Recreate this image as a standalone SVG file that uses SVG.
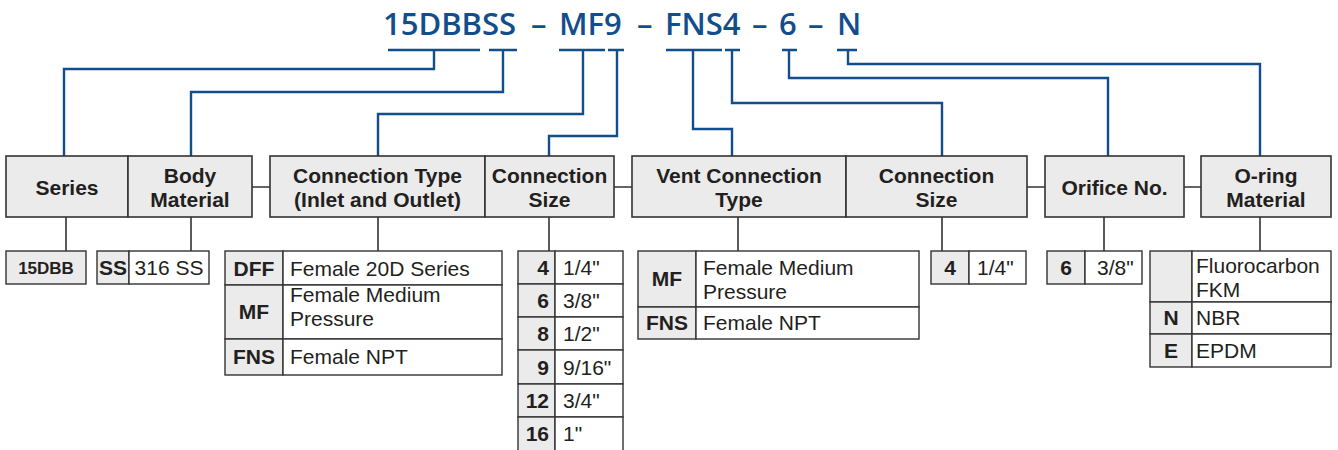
<svg xmlns="http://www.w3.org/2000/svg" width="1338" height="450" viewBox="0 0 1338 450">
<style>
text{font-family:"Liberation Sans",Arial,sans-serif;fill:#231f20;font-size:21px}
.b{font-weight:bold}
.c{text-anchor:middle}
.r{text-anchor:end}
.title{font-family:"Open Sans","Liberation Sans",sans-serif;fill:#124e8c;font-size:31px;font-weight:600}
.hdr{fill:#ebebeb;stroke:#333;stroke-width:1.6}
.key{fill:#ebebeb;stroke:#333;stroke-width:1.4}
.val{fill:#fff;stroke:#333;stroke-width:1.4}
.blue{fill:none;stroke:#124e8c;stroke-width:2.4}
.gray{fill:none;stroke:#333;stroke-width:1.6}
</style>
<rect width="1338" height="450" fill="#fff"/>
<g id="title">
<text class="title" x="383" y="35">15DBBSS</text>
<text class="title" x="531" y="35">–</text>
<text class="title" x="559" y="35">MF9</text>
<text class="title" x="637" y="35">–</text>
<text class="title" x="665" y="35">FNS4</text>
<text class="title" x="752" y="35">–</text>
<text class="title" x="779" y="35">6</text>
<text class="title" x="808" y="35">–</text>
<text class="title" x="837" y="35">N</text>
</g>
<g id="connectors">
<path class="blue" d="M388 50H480M434 50V69H64V156"/>
<path class="blue" d="M489 50H517M503 50V92H191V156"/>
<path class="blue" d="M559 50H605M583 50V114H378V156"/>
<path class="blue" d="M608 50H624M617 50V136H549V156"/>
<path class="blue" d="M666 50H722M693 50V129H732V156"/>
<path class="blue" d="M725 50H740M732 50V103H942V156"/>
<path class="blue" d="M782 50H797M789 50V78H1108V156"/>
<path class="blue" d="M837 50H857M848 50V64H1260V156"/>
<path class="gray" d="M252 187H270M614 187H632M1027 187H1045M1184 187H1201"/>
<path class="gray" d="M66 217V251M191 217V251M378 217V251M549 217V251M738 217V251M942 217V251M1104 217V251M1260 217V251"/>
</g>
<g id="hdr-series"><rect class="hdr" x="6" y="156" width="122" height="61"/><text class="b c" x="67" y="195">Series</text></g>
<g id="hdr-body"><rect class="hdr" x="128" y="156" width="124" height="61"/><text class="b c" x="190" y="183">Body<tspan x="190" dy="24">Material</tspan></text></g>
<g id="hdr-conntype"><rect class="hdr" x="270" y="156" width="215" height="61"/><text class="b c" x="377.5" y="183">Connection Type<tspan x="377.5" dy="24">(Inlet and Outlet)</tspan></text></g>
<g id="hdr-connsize"><rect class="hdr" x="485" y="156" width="129" height="61"/><text class="b c" x="549.5" y="183">Connection<tspan x="549.5" dy="24">Size</tspan></text></g>
<g id="hdr-vent"><rect class="hdr" x="632" y="156" width="214" height="61"/><text class="b c" x="739" y="183">Vent Connection<tspan x="739" dy="24">Type</tspan></text></g>
<g id="hdr-ventsize"><rect class="hdr" x="846" y="156" width="181" height="61"/><text class="b c" x="936.5" y="183">Connection<tspan x="936.5" dy="24">Size</tspan></text></g>
<g id="hdr-orifice"><rect class="hdr" x="1045" y="156" width="139" height="61"/><text class="b c" x="1114.5" y="195">Orifice No.</text></g>
<g id="hdr-oring"><rect class="hdr" x="1201" y="156" width="130" height="61"/><text class="b c" x="1266" y="183">O-ring<tspan x="1266" dy="24">Material</tspan></text></g>

<g id="tbl-series"><rect class="key" x="6" y="251" width="80" height="33"/><text class="b c" x="46" y="274" style="font-size:17px">15DBB</text></g>
<g id="tbl-body"><rect class="key" x="97" y="251" width="32" height="33"/><rect class="val" x="129" y="251" width="80" height="33"/><text class="b c" x="113" y="275">SS</text><text class="c" x="169" y="275">316 SS</text></g>
<g id="tbl-conntype">
<rect class="key" x="225" y="251" width="58" height="34"/><rect class="val" x="283" y="251" width="219" height="34"/>
<rect class="key" x="225" y="285" width="58" height="54"/><rect class="val" x="283" y="285" width="219" height="54"/>
<rect class="key" x="225" y="339" width="58" height="36"/><rect class="val" x="283" y="339" width="219" height="36"/>
<text class="b c" x="254" y="276">DFF</text><text x="290" y="276">Female 20D Series</text>
<text class="b c" x="254" y="319">MF</text><text x="290" y="302">Female Medium<tspan x="290" dy="24">Pressure</tspan></text>
<text class="b c" x="254" y="364">FNS</text><text x="290" y="364">Female NPT</text>
</g>
<g id="tbl-connsize">
<rect class="key" x="518" y="251" width="37" height="33"/><rect class="val" x="555" y="251" width="68" height="33"/>
<rect class="key" x="518" y="284" width="37" height="33"/><rect class="val" x="555" y="284" width="68" height="33"/>
<rect class="key" x="518" y="317" width="37" height="33"/><rect class="val" x="555" y="317" width="68" height="33"/>
<rect class="key" x="518" y="350" width="37" height="34"/><rect class="val" x="555" y="350" width="68" height="34"/>
<rect class="key" x="518" y="384" width="37" height="33"/><rect class="val" x="555" y="384" width="68" height="33"/>
<rect class="key" x="518" y="417" width="37" height="34"/><rect class="val" x="555" y="417" width="68" height="34"/>
<text class="b r" x="549" y="275">4</text><text x="563" y="275">1/4"</text>
<text class="b r" x="549" y="308">6</text><text x="563" y="308">3/8"</text>
<text class="b r" x="549" y="341">8</text><text x="563" y="341">1/2"</text>
<text class="b r" x="549" y="375">9</text><text x="563" y="375">9/16"</text>
<text class="b r" x="549" y="408">12</text><text x="563" y="408">3/4"</text>
<text class="b r" x="549" y="441">16</text><text x="563" y="441">1"</text>
</g>
<g id="tbl-vent">
<rect class="key" x="638" y="251" width="58" height="56"/><rect class="val" x="696" y="251" width="223" height="56"/>
<rect class="key" x="638" y="307" width="58" height="32"/><rect class="val" x="696" y="307" width="223" height="32"/>
<text class="b c" x="667" y="286">MF</text><text x="703" y="275">Female Medium<tspan x="703" dy="24">Pressure</tspan></text>
<text class="b c" x="667" y="330">FNS</text><text x="703" y="330">Female NPT</text>
</g>
<g id="tbl-ventsize"><rect class="key" x="931" y="251" width="38" height="33"/><rect class="val" x="969" y="251" width="57" height="33"/><text class="b c" x="950" y="275">4</text><text x="977" y="275">1/4"</text></g>
<g id="tbl-orifice"><rect class="key" x="1047" y="251" width="38" height="33"/><rect class="val" x="1085" y="251" width="57" height="33"/><text class="b c" x="1066" y="275">6</text><text x="1097" y="275">3/8"</text></g>
<g id="tbl-oring">
<rect class="key" x="1150" y="251" width="42" height="51"/><rect class="val" x="1192" y="251" width="139" height="51"/>
<rect class="key" x="1150" y="302" width="42" height="32"/><rect class="val" x="1192" y="302" width="139" height="32"/>
<rect class="key" x="1150" y="334" width="42" height="33"/><rect class="val" x="1192" y="334" width="139" height="33"/>
<text x="1196" y="273">Fluorocarbon<tspan x="1196" dy="24">FKM</tspan></text>
<text class="b c" x="1171" y="325">N</text><text x="1196" y="325">NBR</text>
<text class="b c" x="1171" y="358">E</text><text x="1196" y="358">EPDM</text>
</g>
</svg>
